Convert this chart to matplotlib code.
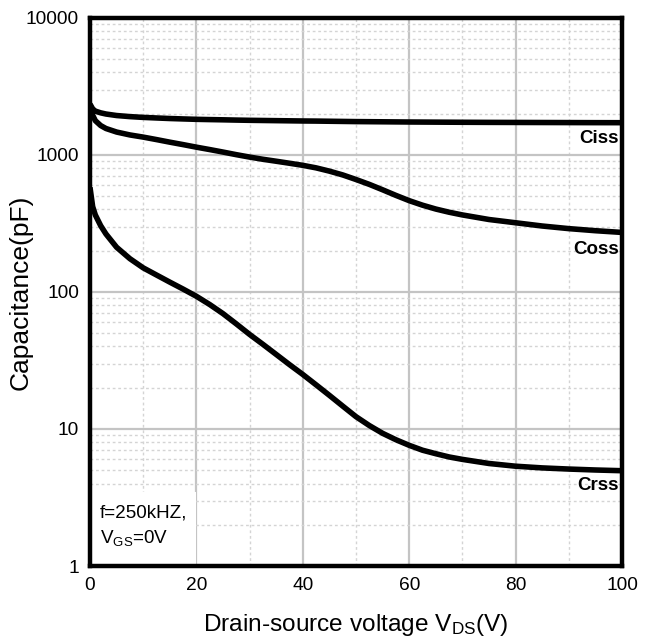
import numpy as np
import matplotlib.pyplot as plt
from matplotlib.patches import Rectangle
from matplotlib.ticker import FixedLocator, NullFormatter

plt.rcParams['font.family'] = ['Liberation Sans', 'DejaVu Sans']
plt.rcParams['mathtext.fontset'] = 'custom'
plt.rcParams['mathtext.rm'] = 'Liberation Sans'
plt.rcParams['mathtext.it'] = 'Liberation Sans'

# capacitance vs drain-source voltage (pF)
vds = [0, 0.5, 1, 2, 3, 5, 7.5,
       10, 12.5, 15, 17.5, 20, 22.5, 25, 27.5, 30, 32.5, 35, 37.5,
       40, 42.5, 45, 47.5, 50, 52.5, 55, 57.5, 60, 62.5, 65, 67.5,
       70, 75, 80, 85, 90, 95, 100]
ciss = [2350, 2170, 2090, 2030, 1990, 1940, 1905,
        1880, 1862, 1845, 1832, 1820, 1812, 1805, 1797, 1790, 1785, 1780, 1775,
        1770, 1767, 1762, 1757, 1752, 1749, 1746, 1743, 1740, 1738, 1736, 1734,
        1732, 1729, 1727, 1725, 1723, 1721, 1720]
coss = [2300, 1950, 1780, 1640, 1560, 1470, 1400,
        1350, 1295, 1240, 1190, 1140, 1095, 1050, 1005, 965, 930, 900, 870,
        840, 805, 762, 715, 662, 610, 557, 507, 464, 430, 403, 382,
        365, 338, 320, 303, 290, 280, 272]
crss = [580, 420, 365, 305, 265, 212, 175,
        150, 133, 118, 105, 93, 81, 69.5, 58.5, 49, 41.5, 35, 29.5,
        25, 21, 17.6, 14.7, 12.3, 10.6, 9.3, 8.35, 7.6, 7.0, 6.6, 6.25,
        6.0, 5.6, 5.35, 5.2, 5.1, 5.02, 4.96]

curve_names = ['Ciss', 'Coss', 'Crss']
label_y = [1320, 203, 3.9]

fig = plt.figure(figsize=(6.55, 6.41), dpi=100)
ax = fig.add_axes([0.1374, 0.117, 0.8122, 0.855])

ax.set_yscale('log')
ax.set_xlim(0, 100)
ax.set_ylim(1, 10000)

ax.xaxis.set_major_locator(FixedLocator([0, 20, 40, 60, 80, 100]))
ax.xaxis.set_minor_locator(FixedLocator([10, 30, 50, 70, 90]))
ax.yaxis.set_major_locator(FixedLocator([1, 10, 100, 1000, 10000]))
minor_y = [m * 10 ** d for d in range(4) for m in range(2, 10)]
ax.yaxis.set_minor_locator(FixedLocator(minor_y))
ax.yaxis.set_minor_formatter(NullFormatter())
ax.set_yticklabels(['1', '10', '100', '1000', '10000'])

ax.grid(which='major', color='#c4c4c4', linewidth=1.6, linestyle='-')
ax.grid(which='minor', color='#d4d4d4', linewidth=1.0, linestyle=(0, (2, 2)))
ax.set_axisbelow(True)

ax.tick_params(which='both', length=0, labelsize=13.8, pad=8)
for s in ax.spines.values():
    s.set_linewidth(3.2)
    s.set_color('black')

# blank patch behind the test-condition note
ax.add_patch(Rectangle((0, 0), 0.2, 0.135, transform=ax.transAxes,
                       facecolor='white', edgecolor='none', zorder=1))

for vals in (ciss, coss, crss):
    ax.plot(vds, vals, color='black', linewidth=4, solid_capstyle='butt',
            zorder=3)

for name, y in zip(curve_names, label_y):
    ax.text(99.4, y, name, ha='right', va='center', fontsize=13.5,
            fontweight='bold', zorder=4)

ax.text(1.9, 1.96, 'f=250kHZ,\n$\\mathrm{V_{GS}}$=0V', ha='left', va='center',
        fontsize=13.6, linespacing=1.45, zorder=2)

ax.set_ylabel('Capacitance(pF)', fontsize=19)
ax.yaxis.set_label_coords(-0.107, 0.5)
ax.set_xlabel('Drain-source voltage $\\mathrm{V_{DS}}$(V)', fontsize=17.6,
              labelpad=13)

fig.savefig('out.png', dpi=100)
